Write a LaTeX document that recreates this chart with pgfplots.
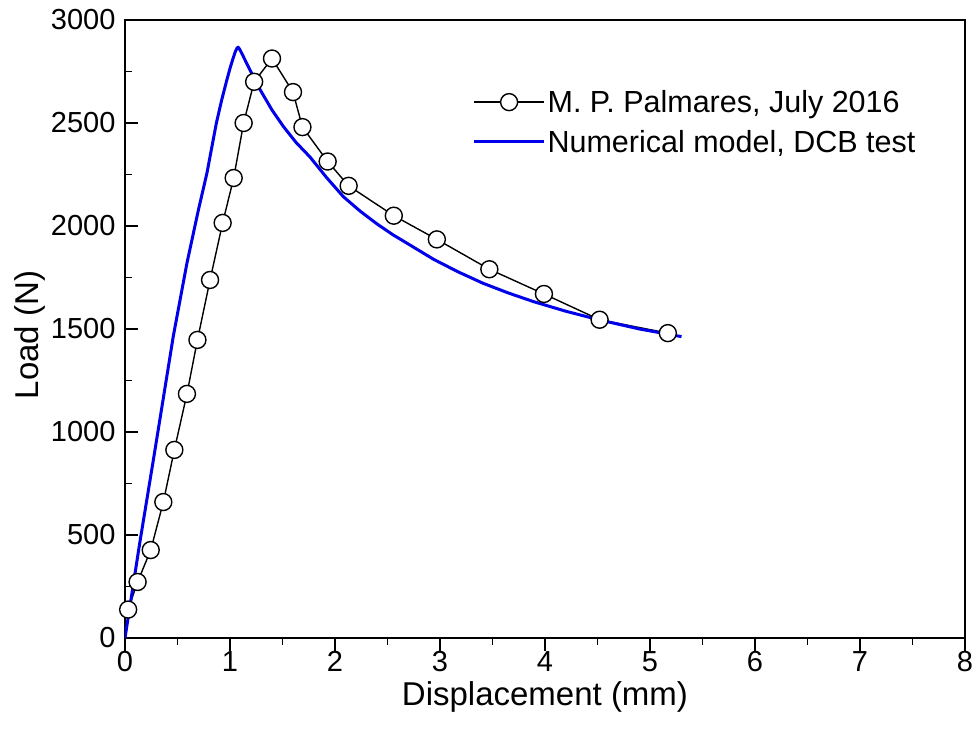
\documentclass[border=0pt]{standalone}
\usepackage{pgfplots}
\pgfplotsset{compat=1.18}
\usepackage{fontspec}
\setmainfont{Liberation Sans}
\begin{document}
\begin{tikzpicture}
\begin{axis}[
  at={(0,0)}, anchor=south west,
  scale only axis, width=840pt, height=618pt,
  xmin=0, xmax=8, ymin=0, ymax=3000,
  xtick={0,1,...,8}, ytick={0,500,...,3000},
  minor x tick num=1, minor y tick num=1,
  axis line style={line width=1.8pt},
  tick style={line width=1.8pt, black},
  tick align=inside,
  major tick length=13pt, minor tick length=7pt,
  xtick pos=left, ytick pos=left,
  major x tick style={yshift=-13pt},
  minor x tick style={yshift=-7pt},
  /pgf/number format/assume math mode=true,
  /pgf/number format/1000 sep={},
  tick label style={font=\fontsize{29}{29}\selectfont},
  xticklabel style={yshift=-10pt},
  yticklabel style={xshift=-6pt},
  xlabel={Displacement (mm)},
  ylabel={Load (N)},
  label style={font=\fontsize{33}{33}\selectfont},
  xlabel style={at={([yshift=-67pt]axis description cs:0.5,0)}, anchor=base},
  ylabel style={at={([xshift=-86pt,yshift=-6pt]axis description cs:0,0.5)}, anchor=base},
  legend style={draw=none, fill=none, at={(rel axis cs:0.410,0.893)}, anchor=north west,
    font=\fontsize{30.5}{30.5}\selectfont, row sep=12pt},
  legend cell align=left,
  legend image code/.code={\draw[mark repeat=2,mark phase=2,#1] plot coordinates {(0pt,0pt) (35pt,0pt) (70pt,0pt)};},
]
\addplot[black, line width=1.4pt, mark=*, mark size=8.5pt,
  mark options={fill=white, draw=black, line width=1.4pt}] coordinates {
(0.03,138)
(0.12,272)
(0.245,427)
(0.365,660)
(0.47,913)
(0.59,1185)
(0.69,1447)
(0.81,1738)
(0.93,2015)
(1.035,2233)
(1.13,2500)
(1.23,2700)
(1.40,2813)
(1.60,2650)
(1.69,2480)
(1.93,2313)
(2.13,2195)
(2.56,2050)
(2.97,1935)
(3.47,1790)
(3.99,1670)
(4.52,1545)
(5.17,1480)
};
\addlegendentry{M. P. Palmares, July 2016}
\addplot[color={rgb,255:red,0;green,0;blue,235}, line width=3pt, mark=none, line join=round] coordinates {
(0,0)
(0.14,460)
(0.27,864)
(0.37,1180)
(0.46,1465)
(0.59,1820)
(0.70,2080)
(0.78,2256)
(0.87,2499)
(0.92,2610)
(0.97,2709)
(1.00,2765)
(1.03,2815)
(1.05,2845)
(1.065,2862)
(1.077,2868)
(1.09,2860)
(1.12,2830)
(1.175,2773)
(1.26,2685)
(1.40,2563)
(1.51,2482)
(1.63,2405)
(1.76,2336)
(1.92,2235)
(2.08,2142)
(2.24,2072)
(2.40,2010)
(2.55,1958)
(2.70,1912)
(2.94,1838)
(3.17,1778)
(3.41,1722)
(3.65,1675)
(3.89,1633)
(4.20,1586)
(4.52,1544)
(4.90,1500)
(5.30,1463)
};
\addlegendentry{Numerical model, DCB test}
\end{axis}
\pgfresetboundingbox
\path[use as bounding box] (-125pt,-104pt) rectangle (851pt,638pt);
\end{tikzpicture}
\end{document}
